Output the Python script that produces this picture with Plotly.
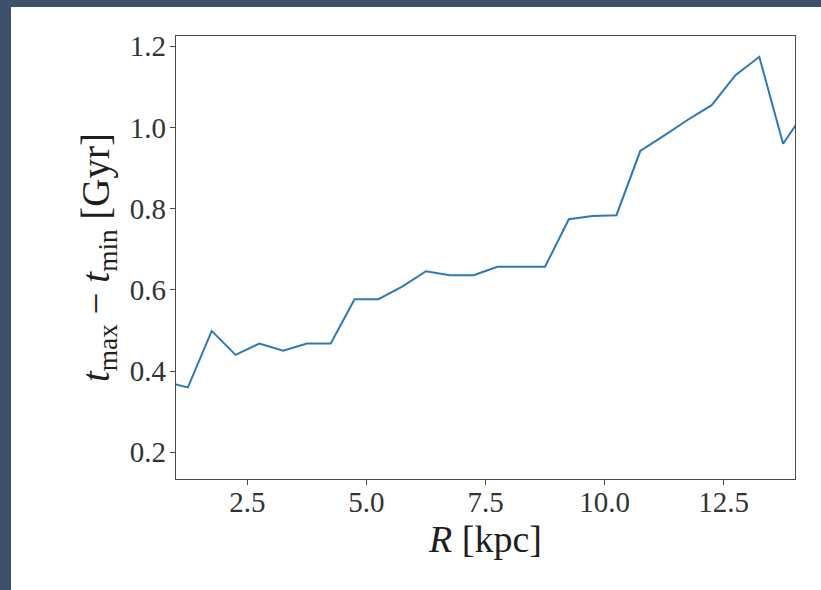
import plotly.graph_objects as go

# Galactocentric radius bin centres [kpc] and age spread per bin [Gyr]
radius_kpc = [0.75, 1.25, 1.75, 2.25, 2.75, 3.25, 3.75, 4.25, 4.75, 5.25,
              5.75, 6.25, 6.75, 7.25, 7.75, 8.25, 8.75, 9.25, 9.75, 10.25,
              10.75, 11.25, 11.75, 12.25, 12.75, 13.25, 13.75, 14.25]
age_spread_gyr = [0.374, 0.360, 0.499, 0.440, 0.468, 0.450, 0.468, 0.468, 0.577, 0.577,
                  0.608, 0.646, 0.636, 0.636, 0.657, 0.657, 0.657, 0.774, 0.782, 0.784,
                  0.942, 0.980, 1.019, 1.055, 1.129, 1.174, 0.960, 1.046]

x_ticks = [2.5, 5.0, 7.5, 10.0, 12.5]
y_ticks = [0.2, 0.4, 0.6, 0.8, 1.0, 1.2]

W, H = 821, 590
ML, MR, MT, MB = 176, 26, 36, 111
PW, PH = W - ML - MR, H - MT - MB

FONT = "Liberation Serif"
BORDER = "#3e516c"

fig = go.Figure(
    go.Scatter(
        x=radius_kpc,
        y=age_spread_gyr,
        mode="lines",
        line=dict(color="#2d79b3", width=2),
        showlegend=False,
    )
)

axis_common = dict(
    showline=True,
    linecolor="#4a4a4a",
    linewidth=1.4,
    mirror=True,
    ticks="outside",
    ticklen=5,
    tickwidth=1.2,
    tickcolor="#4a4a4a",
    showgrid=False,
    zeroline=False,
    tickfont=dict(family=FONT, size=29, color="#333333"),
)

fig.update_xaxes(
    range=[1.0, 14.0],
    tickvals=x_ticks,
    ticktext=[f"{v:.1f}" for v in x_ticks],
    ticklabelstandoff=-8,
    title=dict(text="<i>R</i> [kpc]", font=dict(family=FONT, size=38, color="#1e1e1e"), standoff=8),
    **axis_common,
)
fig.update_yaxes(
    range=[0.1343, 1.2253],
    tickvals=y_ticks,
    ticktext=[f"{v:.1f}" for v in y_ticks],
    ticklabelstandoff=-2,
    title=dict(
        text="<i>t</i><sub>max</sub> \u2212 <i>t</i><sub>min</sub> [Gyr]",
        font=dict(family=FONT, size=39, color="#1e1e1e"),
        standoff=8,
    ),
    **axis_common,
)

# dark frame strips along the left and top edges of the page
def px_to_paper_x(px):
    return (px - ML) / PW

def px_to_paper_y(py):
    return (H - MB - py) / PH

fig.add_shape(type="rect", xref="paper", yref="paper",
              x0=px_to_paper_x(0), x1=px_to_paper_x(11),
              y0=px_to_paper_y(H), y1=px_to_paper_y(0),
              fillcolor=BORDER, line_width=0, layer="below")
fig.add_shape(type="rect", xref="paper", yref="paper",
              x0=px_to_paper_x(0), x1=px_to_paper_x(W),
              y0=px_to_paper_y(7), y1=px_to_paper_y(0),
              fillcolor=BORDER, line_width=0, layer="below")

fig.update_layout(
    width=W,
    height=H,
    margin=dict(l=ML, r=MR, t=MT, b=MB, autoexpand=False),
    paper_bgcolor="white",
    plot_bgcolor="white",
)

fig.write_html("out.html")
